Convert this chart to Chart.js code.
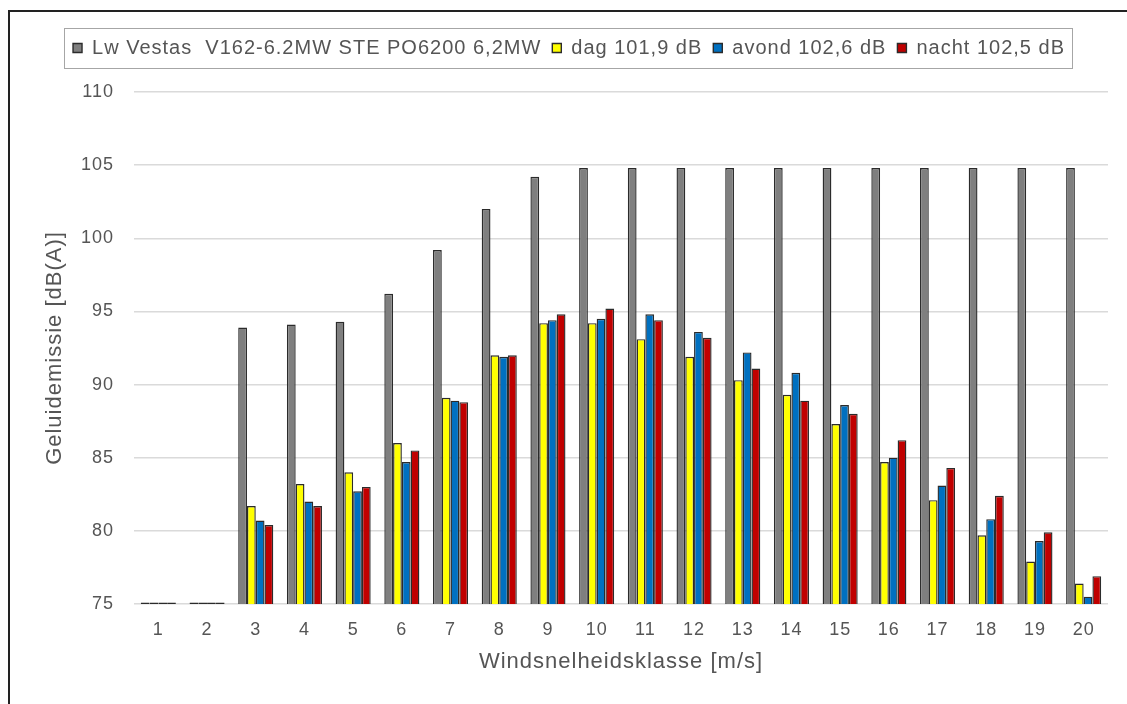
<!DOCTYPE html>
<html lang="nl">
<head>
  <meta charset="UTF-8">
  <title>Geluidemissie per windsnelheidsklasse</title>
  <script src="https://cdn.jsdelivr.net/npm/chart.js"></script>
  <style>
    html, body {
      margin: 0;
      padding: 0;
      background: #ffffff;
      overflow: hidden;
    }
    #frame {
      position: absolute;
      left: 8px;
      top: 10px;
      width: 1200px;
      height: 800px;
      border: 2px solid #222;
    }
    #chart-container {
      position: absolute;
      left: 0;
      top: 0;
      width: 1127px;
      height: 704px;
    }
  </style>
</head>
<body>
  <div id="frame"></div>
  <div id="chart-container">
    <canvas id="emissionChart"></canvas>
  </div>
  <script>
    // Windsnelheidsklassen (m/s)
    const windClasses = ['1', '2', '3', '4', '5', '6', '7', '8', '9', '10',
                         '11', '12', '13', '14', '15', '16', '17', '18', '19', '20'];

    // Bronvermogen turbine
    const lwVestas = [75.1, 75.1, 93.9, 94.1, 94.3, 96.2, 99.2, 102.0, 104.2, 104.8,
                      104.8, 104.8, 104.8, 104.8, 104.8, 104.8, 104.8, 104.8, 104.8, 104.8];
    // Periodes
    const dag =    [75.1, 75.1, 81.7, 83.2, 84.0, 86.0, 89.1, 92.0, 94.2, 94.2,
                    93.1, 91.9, 90.3, 89.3, 87.3, 84.7, 82.1, 79.7, 77.9, 76.4];
    const avond =  [75.1, 75.1, 80.7, 82.0, 82.7, 84.7, 88.9, 91.9, 94.4, 94.5,
                    94.8, 93.6, 92.2, 90.8, 88.6, 85.0, 83.1, 80.8, 79.3, 75.5];
    const nacht =  [75.1, 75.1, 80.4, 81.7, 83.0, 85.5, 88.8, 92.0, 94.8, 95.2,
                    94.4, 93.2, 91.1, 88.9, 88.0, 86.2, 84.3, 82.4, 79.9, 76.9];

    const seriesLabels = ['Lw Vestas  V162-6.2MW STE PO6200 6,2MW', 'dag 101,9 dB',
                          'avond 102,6 dB', 'nacht 102,5 dB'];
    const seriesColors = ['#7f7f7f', '#ffff00', '#0070c0', '#c00000'];
    const yTicks = [75, 80, 85, 90, 95, 100, 105, 110];

    const fontFamily = '"Liberation Sans", Arial, sans-serif';
    const textColor = '#555555';

    // slightly spaced lettering; canvas resets clear it, so set it again each pass
    const spacing = {
      id: 'spacing',
      beforeLayout(chart) { chart.ctx.letterSpacing = '1px'; },
      beforeDraw(chart) { chart.ctx.letterSpacing = '1px'; }
    };

    // frame around the legend
    const legendBox = {
      id: 'legendBox',
      beforeInit(chart) {
        const fit = chart.legend.fit;
        chart.legend.fit = function () {
          fit.bind(chart.legend)();
          this.height = 65;
        };
      },
      afterDraw(chart) {
        const boxes = chart.legend.legendHitBoxes;
        if (!boxes || !boxes.length) return;
        const left = Math.min(...boxes.map(b => b.left));
        const right = Math.max(...boxes.map(b => b.left + b.width));
        const top = Math.min(...boxes.map(b => b.top));
        const bottom = Math.max(...boxes.map(b => b.top + b.height));
        const ctx = chart.ctx;
        ctx.save();
        ctx.strokeStyle = '#a6a6a6';
        ctx.lineWidth = 1;
        ctx.strokeRect(Math.round(left - 9) + 0.5, Math.round(top - 10) + 0.5,
                       Math.round(right - left + 16), Math.round(bottom - top + 20));
        ctx.restore();
      }
    };

    const ctx = document.getElementById('emissionChart').getContext('2d');
    const datasets = [lwVestas, dag, avond, nacht].map((values, i) => ({
      label: seriesLabels[i],
      data: values,
      backgroundColor: seriesColors[i],
      borderColor: '#2b2b2b',
      borderWidth: 1.4,
      borderSkipped: false,
      categoryPercentage: 0.72,
      barPercentage: 1.0
    }));

    new Chart(ctx, {
      type: 'bar',
      data: { labels: windClasses, datasets: datasets },
      plugins: [spacing, legendBox],
      options: {
        responsive: true,
        maintainAspectRatio: false,
        animation: false,
        layout: {
          padding: { left: 30, right: 19, top: 27, bottom: 19 }
        },
        plugins: {
          tooltip: { enabled: false },
          legend: {
            position: 'top',
            labels: {
              color: textColor,
              font: { family: fontFamily, size: 20 },
              boxWidth: 9,
              boxHeight: 9,
              padding: 11
            }
          }
        },
        scales: {
          x: {
            afterFit(scale) { scale.height = 81; },
            grid: { display: false, drawTicks: false },
            border: { display: false },
            ticks: {
              color: textColor,
              font: { family: fontFamily, size: 18 },
              padding: 15,
              maxRotation: 0
            },
            title: {
              display: true,
              text: 'Windsnelheidsklasse [m/s]',
              color: textColor,
              font: { family: fontFamily, size: 22 },
              padding: { top: 4, bottom: 10 }
            }
          },
          y: {
            min: 75,
            max: 110,
            afterFit(scale) { scale.width = 104; },
            afterBuildTicks(scale) { scale.ticks = yTicks.map(v => ({ value: v })); },
            grid: { color: '#dadada', lineWidth: 1.5, drawTicks: false },
            border: { display: false },
            ticks: {
              color: textColor,
              font: { family: fontFamily, size: 18 },
              padding: 20
            },
            title: {
              display: true,
              text: 'Geluidemissie [dB(A)]',
              color: textColor,
              font: { family: fontFamily, size: 22 },
              padding: { top: 12, bottom: 0 }
            }
          }
        }
      }
    });
  </script>
</body>
</html>
